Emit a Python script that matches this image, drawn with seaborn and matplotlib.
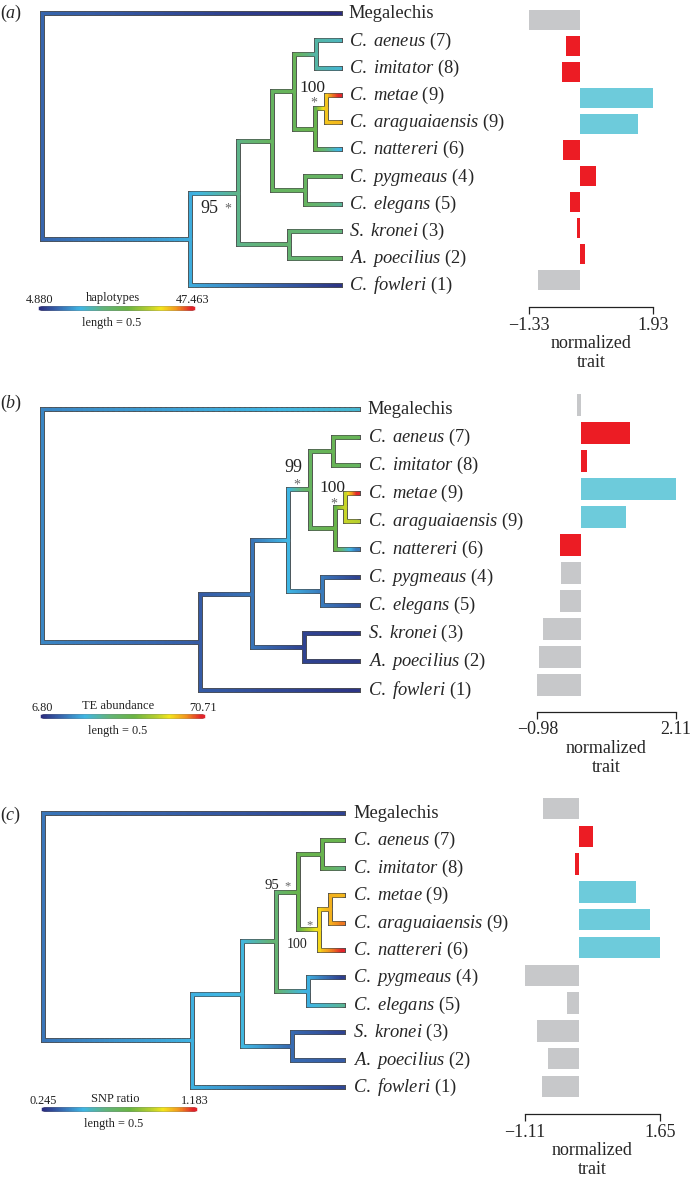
import numpy as np
import pandas as pd
import seaborn as sns
import matplotlib
matplotlib.use("Agg")
import matplotlib.pyplot as plt
from matplotlib.collections import LineCollection
from matplotlib.colors import LinearSegmentedColormap, Normalize

W, H = 692, 1180

# ---- data ----
taxa = ["Megalechis", "C. aeneus", "C. imitator", "C. metae", "C. araguaiaensis",
        "C. nattereri", "C. pygmeaus", "C. elegans", "S. kronei", "A. poecilius", "C. fowleri"]
counts = ["", "7", "8", "9", "9", "6", "4", "5", "3", "2", "1"]

# topology (tips are indices into taxa, top to bottom)
children = {
    "root": [0, "ingroup"],
    "ingroup": ["X", 10],
    "X": ["Y", "KP"],
    "KP": [8, 9],
    "Y": ["Z", "PE"],
    "PE": [6, 7],
    "Z": ["AI", "W"],
    "AI": [1, 2],
    "W": ["MA", 5],
    "MA": [3, 4],
}
nodes = ["root", "ingroup", "X", "Y", "Z", "AI", "W", "MA", "PE", "KP"]

# node depths (tree length units) and tip depth
depth_a = [0, 0.484, 0.641, 0.752, 0.824, 0.895, 0.892, 0.928, 0.859, 0.807]
depth_b = [0, 0.491, 0.652, 0.764, 0.832, 0.904, 0.910, 0.941, 0.870, 0.814]
depth_c = [0, 0.490, 0.655, 0.766, 0.839, 0.918, 0.908, 0.944, 0.872, 0.819]
tipdepth = {"a": 0.974, "b": 0.981, "c": 0.987}

# mapped trait values at internal nodes and tips
node_a = [9.99, 15.53, 21.91, 26.17, 27.02, 20.21, 28.30, 40.65, 26.17, 24.04]
tip_a = [4.88, 18.93, 17.65, 47.463, 41.50, 16.38, 25.32, 21.06, 22.76, 25.32, 5.73]
node_b = [18.30, 13.20, 16.39, 24.06, 38.76, 40.67, 42.59, 54.09, 17.03, 10.00]
tip_b = [25.97, 40.03, 38.76, 70.71, 52.82, 16.39, 10.00, 11.91, 8.72, 8.72, 8.08]
node_c = [0.386, 0.489, 0.508, 0.667, 0.761, 0.761, 1.014, 1.060, 0.489, 0.367]
tip_c = [0.292, 0.761, 0.639, 1.052, 1.117, 1.183, 0.283, 0.601, 0.292, 0.339, 0.301]

trait_range = {"a": (4.880, 47.463), "b": (6.80, 70.71), "c": (0.245, 1.183)}
trait_fmt = {"a": "{:.3f}", "b": "{:.2f}", "c": "{:.3f}"}
trait_name = {"a": "haplotypes", "b": "TE abundance", "c": "SNP ratio"}

# normalized trait bars
bar_a = [-1.33, -0.37, -0.45, 1.93, 1.53, -0.44, 0.44, -0.24, -0.06, 0.15, -1.10]
bar_b = [-0.09, 1.08, 0.13, 2.11, 1.00, -0.48, -0.45, -0.48, -0.85, -0.94, -0.98]
bar_c = [-0.74, 0.28, -0.09, 1.16, 1.45, 1.65, -1.11, -0.25, -0.86, -0.65, -0.77]
grp_a = ["gray", "red", "red", "cyan", "cyan", "red", "red", "red", "red", "red", "gray"]
grp_b = ["gray", "red", "red", "cyan", "cyan", "red", "gray", "gray", "gray", "gray", "gray"]
grp_c = ["gray", "red", "red", "cyan", "cyan", "cyan", "gray", "gray", "gray", "gray", "gray"]

# support values: (text, x px, baseline px, size, colour)
support_a = [("100", 312, 92, 12.5, "#222222"), ("*", 314, 107, 10, "#666666"),
             ("95", 209, 213, 13, "#222222"), ("*", 228, 213, 10, "#666666")]
support_b = [("99", 293, 472, 13, "#222222"), ("*", 297, 489, 10, "#666666"),
             ("100", 332, 492, 12.5, "#222222"), ("*", 334, 508, 10, "#666666")]
support_c = [("95", 272, 889, 10.5, "#222222"), ("*", 288, 889, 9, "#666666"),
             ("*", 310, 928, 9, "#666666"), ("100", 297, 948, 10, "#222222")]

bar_colors = {"gray": "#c7c8ca", "red": "#ec1c24", "cyan": "#6dcbdb"}

cmap = LinearSegmentedColormap.from_list("contmap", [
    (0.00, "#2a2c7e"), (0.12, "#3766ae"), (0.27, "#3fb6e4"), (0.42, "#62b47c"),
    (0.58, "#6ab443"), (0.72, "#b7cf2e"), (0.80, "#f4e61c"), (0.90, "#f39a1e"),
    (1.00, "#e2232a")])

# layout of each panel in pixels
panels = [
    dict(key="a", top=0, bottom=390, root_px=42, ppu=306, tip_y0=13.3, tip_dy=27.2, lab_off=8.5,
         depth=depth_a, nodev=node_a, tipv=tip_a, bars=bar_a, grp=grp_a, support=support_a,
         bar_box=(529, 7, 653, 293), spine_off=10, cb=(40, 308), tag_y=13),
    dict(key="b", top=390, bottom=780, root_px=42, ppu=322, tip_y0=408.5, tip_dy=28.1, lab_off=10,
         depth=depth_b, nodev=node_b, tipv=tip_b, bars=bar_b, grp=grp_b, support=support_b,
         bar_box=(537.3, 391, 675.7, 699), spine_off=9, cb=(42, 716), tag_y=403),
    dict(key="c", top=780, bottom=1180, root_px=43, ppu=304, tip_y0=813, tip_dy=27.4, lab_off=10,
         depth=depth_c, nodev=node_c, tipv=tip_c, bars=bar_c, grp=grp_c, support=support_c,
         bar_box=(525, 794.7, 660, 1100.4), spine_off=10, cb=(43, 1109.3), tag_y=815),
]

sns.set_style("white")
plt.rcParams["font.family"] = ["Liberation Serif", "DejaVu Serif"]
plt.rcParams["mathtext.fontset"] = "custom"
plt.rcParams["mathtext.rm"] = "Liberation Serif"
plt.rcParams["mathtext.it"] = "Liberation Serif:italic"

fig = plt.figure(figsize=(W / 100, H / 100), dpi=100)


def px_axes(x0, y0, x1, y1):
    return fig.add_axes([x0 / W, 1 - y1 / H, (x1 - x0) / W, (y1 - y0) / H])


def ftext(x, y, s, **kw):
    fig.text(x / W, 1 - y / H, s, **kw)


def ypos(n):
    if isinstance(n, int):
        return n
    kids = children[n]
    return (ypos(kids[0]) + ypos(kids[-1])) / 2


def draw_tree(ax, depth, tipd, nodev, tipv, norm):
    dep = dict(zip(nodes, depth))
    val = dict(zip(nodes, nodev))
    xd = lambda n: tipd if isinstance(n, int) else dep[n]
    vv = lambda n: tipv[n] if isinstance(n, int) else val[n]
    outline, vsegs, vcols, hsegs, hcols = [], [], [], [], []
    for p, kids in children.items():
        seg = [(dep[p], ypos(kids[0])), (dep[p], ypos(kids[-1]))]
        outline.append(seg)
        vsegs.append(seg)
        vcols.append(cmap(norm(val[p])))
        for c in kids:
            y = ypos(c)
            outline.append([(dep[p], y), (xd(c), y)])
            xs = np.linspace(dep[p], xd(c), 61)
            vals = np.linspace(vv(p), vv(c), 60)
            for i in range(60):
                hsegs.append([(xs[i], y), (xs[i + 1], y)])
                hcols.append(cmap(norm(vals[i])))
    ax.add_collection(LineCollection(outline, colors="#505050", linewidths=3.6, capstyle="projecting"))
    ax.add_collection(LineCollection(hsegs, colors=hcols, linewidths=2.3, capstyle="projecting"))
    ax.add_collection(LineCollection(vsegs, colors=vcols, linewidths=2.3, capstyle="projecting"))


for p in panels:
    k = p["key"]
    lo, hi = trait_range[k]
    norm = Normalize(lo, hi)

    # ---- tree ----
    tax = px_axes(0, p["top"], W, p["bottom"])
    tax.axis("off")
    tax.patch.set_alpha(0)
    tax.set_xlim(-p["root_px"] / p["ppu"], (W - p["root_px"]) / p["ppu"])
    tax.set_ylim((p["bottom"] - p["tip_y0"]) / p["tip_dy"], (p["top"] - p["tip_y0"]) / p["tip_dy"])
    draw_tree(tax, p["depth"], tipdepth[k], p["nodev"], p["tipv"], norm)

    for i, name in enumerate(taxa):
        if counts[i]:
            s = r"$\mathit{" + name.replace(" ", r"\ ") + "}$ (" + counts[i] + ")"
        else:
            s = name
        tax.annotate(s, xy=(tipdepth[k], i), xytext=(p["lab_off"] * 0.72, -3.6),
                     textcoords="offset points", ha="left", va="baseline", fontsize=13.3)

    for s, x, y, fs, col in p["support"]:
        ftext(x, y, s, ha="center", va="baseline", fontsize=fs, color=col)

    ftext(11, p["tag_y"], r"($\mathit{" + k + "}$)", ha="center", va="center", fontsize=13)

    # colour legend, 0.5 tree units long
    cbx, cby = p["cb"]
    x0 = (cbx - p["root_px"]) / p["ppu"]
    yd = (cby - p["tip_y0"]) / p["tip_dy"]
    xs = np.linspace(x0, x0 + 0.5, 201)
    grad = np.linspace(lo, hi, 200)
    tax.add_collection(LineCollection([[(x0, yd), (x0 + 0.5, yd)]], colors="#666666",
                                      linewidths=3.3, capstyle="butt"))
    tax.add_collection(LineCollection([[(xs[i], yd), (xs[i + 1], yd)] for i in range(200)],
                                      colors=cmap(norm(grad)), linewidths=2.5, capstyle="projecting"))
    cbx1 = cbx + 0.5 * p["ppu"]
    ftext(cbx, cby - 5, trait_fmt[k].format(lo), ha="center", va="baseline", fontsize=8.8, color="#222222")
    ftext(cbx1, cby - 5, trait_fmt[k].format(hi), ha="center", va="baseline", fontsize=8.8, color="#222222")
    ftext((cbx + cbx1) / 2 - 4, cby - 7, trait_name[k], ha="center", va="baseline", fontsize=9, color="#222222")
    ftext((cbx + cbx1) / 2 - 5, cby + 18, "length = 0.5", ha="center", va="baseline", fontsize=8.8, color="#222222")

    # ---- bars ----
    bx0, by0, bx1, by1 = p["bar_box"]
    bax = px_axes(bx0, by0, bx1, by1)
    df = pd.DataFrame({"taxon": taxa, "value": p["bars"]})
    pal = {t: bar_colors[g] for t, g in zip(taxa, p["grp"])}
    sns.barplot(data=df, x="value", y="taxon", hue="taxon", palette=pal, orient="h",
                width=0.77, saturation=1, linewidth=0, legend=False, ax=bax)
    bmin, bmax = min(p["bars"]), max(p["bars"])
    bax.set_xlim(bmin, bmax)
    bax.set_xticks([bmin, bmax])
    bax.set_xticklabels([f"{bmin:.2f}".replace("-", "\u2212"), f"{bmax:.2f}"])
    bax.set_yticks([])
    bax.set_ylabel("")
    bax.set_xlabel("normalized\ntrait", fontsize=13, labelpad=1, linespacing=1.15)
    bax.patch.set_alpha(0)
    for s in ["top", "right", "left"]:
        bax.spines[s].set_visible(False)
    bax.spines["bottom"].set_bounds(bmin, bmax)
    bax.spines["bottom"].set_position(("outward", p["spine_off"]))
    bax.spines["bottom"].set_linewidth(0.9)
    bax.spines["bottom"].set_color("#222222")
    bax.tick_params(axis="x", bottom=True, direction="out", length=5, width=0.9, color="#222222",
                    labelsize=13, pad=2)

fig.savefig("out.png", dpi=100)
